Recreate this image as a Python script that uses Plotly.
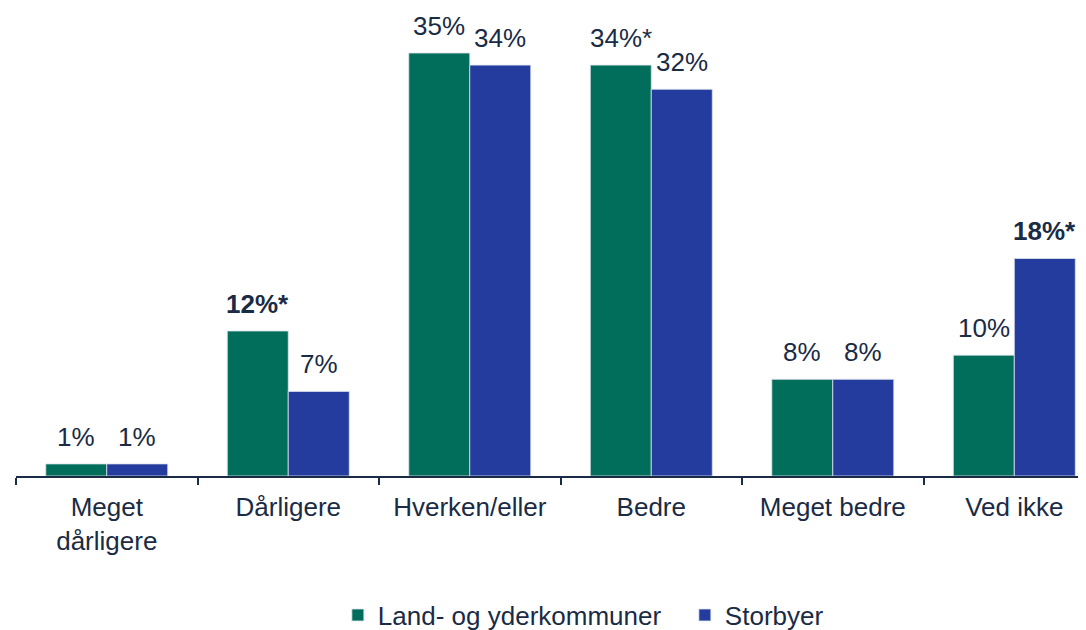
import plotly.graph_objects as go

categories = ["Meget<br>dårligere", "Dårligere", "Hverken/eller", "Bedre", "Meget bedre", "Ved ikke"]
series_names = ["Land- og yderkommuner", "Storbyer"]
land_values = [1, 12, 35, 34, 8, 10]
storby_values = [1, 7, 34, 32, 8, 18]
land_labels = ["1%", "<b>12%*</b>", "35%", "34%*", "8%", "10%"]
storby_labels = ["1%", "7%", "34%", "32%", "8%", "<b>18%*</b>"]

GREEN = "#006e5a"
BLUE = "#233c9e"
TEXT = "#1a2b45"
FONT = "Liberation Sans, Arial, sans-serif"

fig = go.Figure()
for name, vals, col in [(series_names[0], land_values, GREEN), (series_names[1], storby_values, BLUE)]:
    fig.add_trace(go.Bar(
        x=categories, y=vals, name=name,
        marker=dict(color=col, line=dict(color="#dfe3ee", width=0.8)),
        hoverinfo="skip",
    ))

annotations = []
for cat, v, lab in zip(categories, land_values, land_labels):
    annotations.append(dict(x=cat, y=v, text=lab, xref="x", yref="y", showarrow=False,
                            xanchor="center", yanchor="bottom", xshift=-30.5, yshift=10,
                            font=dict(family=FONT, size=26, color=TEXT)))
for cat, v, lab in zip(categories, storby_values, storby_labels):
    annotations.append(dict(x=cat, y=v, text=lab, xref="x", yref="y", showarrow=False,
                            xanchor="center", yanchor="bottom", xshift=30.5, yshift=10,
                            font=dict(family=FONT, size=26, color=TEXT)))

fig.update_layout(
    width=1078, height=622,
    margin=dict(l=8, r=0, t=2, b=154),
    paper_bgcolor="white", plot_bgcolor="white",
    barmode="group", bargap=0.328, bargroupgap=0,
    font=dict(family=FONT, size=26, color=TEXT),
    showlegend=True,
    legend=dict(orientation="h", xref="container", yref="container",
                x=0.306, xanchor="left", y=0.024, yanchor="middle",
                font=dict(family=FONT, size=26, color=TEXT),
                entrywidth=302, entrywidthmode="pixels",
                itemclick=False, itemdoubleclick=False),
    annotations=annotations,
    xaxis=dict(type="category", range=[-0.5, 5.395], showline=True, linecolor=TEXT, linewidth=2,
               ticks="outside", tickson="boundaries", ticklen=7, tickwidth=1.5, tickcolor=TEXT,
               ticklabelstandoff=7,
               tickfont=dict(family=FONT, size=26, color=TEXT), showgrid=False, fixedrange=True),
    yaxis=dict(range=[0, 38.56], visible=False, showgrid=False, zeroline=False, fixedrange=True),
)

fig.write_html("out.html")
